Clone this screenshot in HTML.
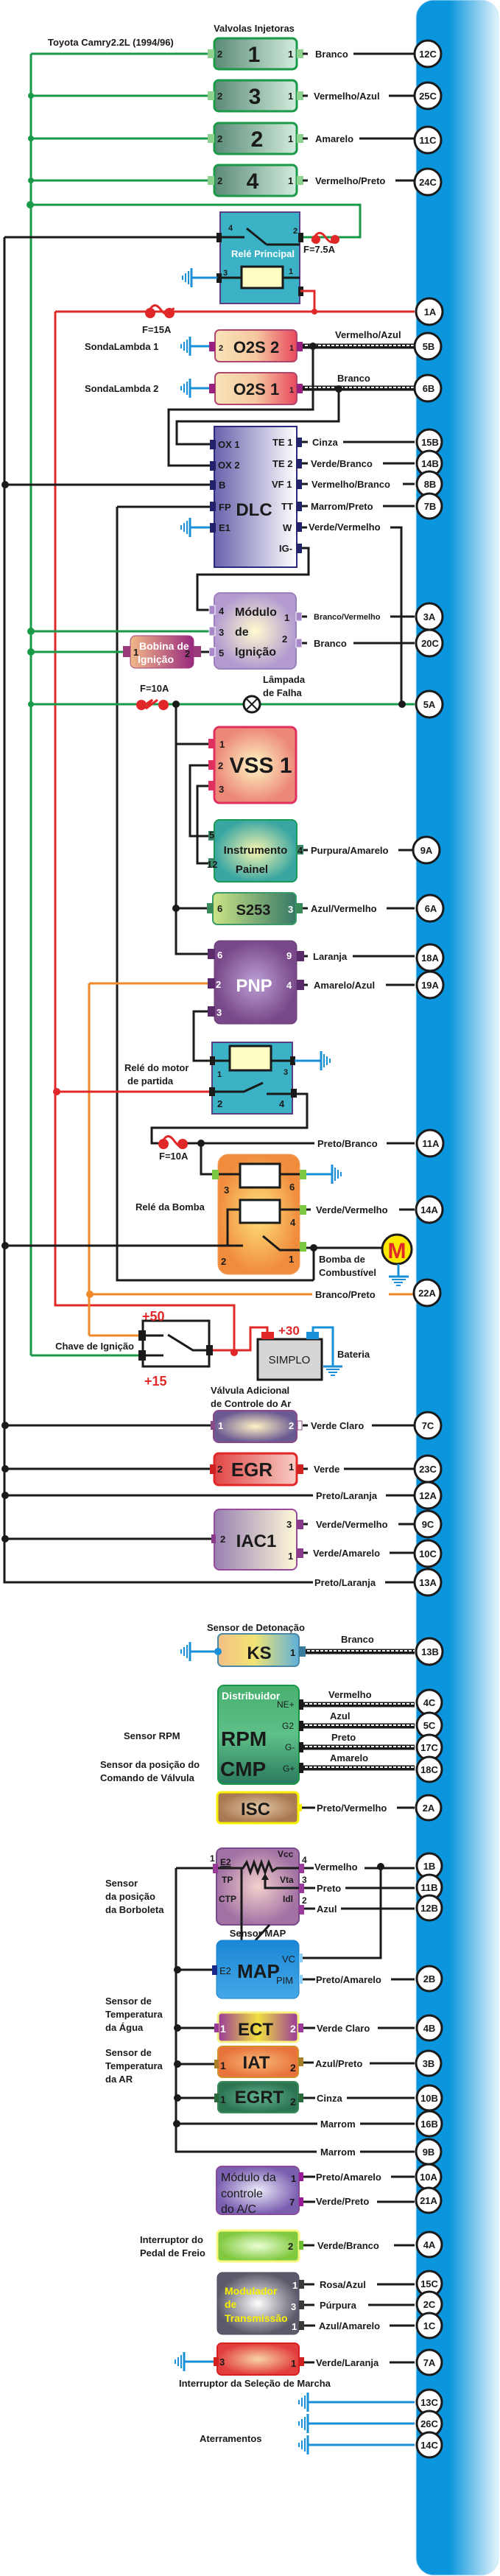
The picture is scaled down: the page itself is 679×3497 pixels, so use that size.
<!DOCTYPE html>
<html><head><meta charset="utf-8"><style>
html,body{margin:0;padding:0;background:#fff}
svg{display:block;fill:#1a1a1a}
text{font-family:"Liberation Sans",sans-serif}
.l{font-size:13px;font-weight:bold}
.s{font-size:11px;font-weight:bold}
.p{font-size:11px;font-weight:bold}
.c{font-size:13px;font-weight:bold;text-anchor:middle}
.wt{fill:#fff}
.yt{fill:#f8f000}
.w{stroke:#1a1a1a;stroke-width:3;fill:none}
.g{stroke:#1a9a48;stroke-width:3;fill:none}
.r{stroke:#e02828;stroke-width:3;fill:none}
.o{stroke:#f08a28;stroke-width:3;fill:none}
.b{stroke:#1a90d8;stroke-width:3;fill:none}
.gb{stroke:#1a90d8;fill:none}
</style></head><body>
<svg width="679" height="3497" viewBox="0 0 679 3497" xmlns="http://www.w3.org/2000/svg">
<defs>
<linearGradient id="bar" x1="0" x2="1"><stop offset="0" stop-color="#0a95dc"/><stop offset="0.4" stop-color="#0a95dc"/><stop offset="1" stop-color="#e4f4fd"/></linearGradient>
<linearGradient id="inj" x1="0" x2="1"><stop offset="0" stop-color="#5a8a76"/><stop offset="1" stop-color="#d2ecdd"/></linearGradient>
<linearGradient id="o2" x1="0" x2="1"><stop offset="0" stop-color="#f8e4b8"/><stop offset="0.5" stop-color="#f6c8a0"/><stop offset="1" stop-color="#e8485e"/></linearGradient>
<linearGradient id="dlc" x1="0" x2="1"><stop offset="0" stop-color="#6862ac"/><stop offset="1" stop-color="#ffffff"/></linearGradient>
<radialGradient id="mod"><stop offset="0" stop-color="#fffbd0"/><stop offset="1" stop-color="#b39bd0"/></radialGradient>
<linearGradient id="bob" x1="0" x2="1"><stop offset="0" stop-color="#f2b888"/><stop offset="1" stop-color="#98287e"/></linearGradient>
<radialGradient id="vss"><stop offset="0" stop-color="#fff6c4"/><stop offset="1" stop-color="#ec8878"/></radialGradient>
<radialGradient id="ins"><stop offset="0" stop-color="#faf6b0"/><stop offset="1" stop-color="#3aa6a2"/></radialGradient>
<linearGradient id="s253" x1="0" x2="1"><stop offset="0" stop-color="#cce486"/><stop offset="1" stop-color="#367866"/></linearGradient>
<radialGradient id="pnp"><stop offset="0" stop-color="#bca0d4"/><stop offset="1" stop-color="#784888"/></radialGradient>
<radialGradient id="bom"><stop offset="0" stop-color="#ffe27e"/><stop offset="1" stop-color="#f08c3c"/></radialGradient>
<radialGradient id="val"><stop offset="0" stop-color="#fff2c4"/><stop offset="1" stop-color="#6a5a92"/></radialGradient>
<linearGradient id="egr" x1="0" x2="1"><stop offset="0" stop-color="#e04646"/><stop offset="1" stop-color="#f8ccc4"/></linearGradient>
<linearGradient id="iac" x1="0" x2="1"><stop offset="0" stop-color="#9880b2"/><stop offset="1" stop-color="#fffad8"/></linearGradient>
<linearGradient id="ks" x1="0" x2="1"><stop offset="0" stop-color="#f4c084"/><stop offset="0.45" stop-color="#f2e474"/><stop offset="1" stop-color="#5eb0da"/></linearGradient>
<linearGradient id="dis" x1="0" y1="0" x2="0" y2="1"><stop offset="0" stop-color="#48b070"/><stop offset="0.5" stop-color="#5ec088"/><stop offset="1" stop-color="#2a7a5e"/></linearGradient>
<radialGradient id="isc"><stop offset="0" stop-color="#e2c6a6"/><stop offset="1" stop-color="#a87850"/></radialGradient>
<radialGradient id="tps"><stop offset="0" stop-color="#f4d0cc"/><stop offset="1" stop-color="#a272a4"/></radialGradient>
<linearGradient id="map" x1="0" x2="0" y1="0" y2="1"><stop offset="0" stop-color="#1a86d6"/><stop offset="1" stop-color="#44a8e6"/></linearGradient>
<linearGradient id="ect" x1="0" x2="1"><stop offset="0" stop-color="#9a3a9a"/><stop offset="0.5" stop-color="#f0e040"/><stop offset="1" stop-color="#9a3a9a"/></linearGradient>
<radialGradient id="iat"><stop offset="0" stop-color="#f8b878"/><stop offset="1" stop-color="#e8743c"/></radialGradient>
<radialGradient id="egrt"><stop offset="0" stop-color="#64b494"/><stop offset="1" stop-color="#2c7452"/></radialGradient>
<radialGradient id="ac"><stop offset="0" stop-color="#ececfa"/><stop offset="1" stop-color="#7a5eb0"/></radialGradient>
<radialGradient id="ped"><stop offset="0" stop-color="#eaffd4"/><stop offset="1" stop-color="#80c83e"/></radialGradient>
<radialGradient id="tr"><stop offset="0" stop-color="#ffffff"/><stop offset="1" stop-color="#5a5a6a"/></radialGradient>
<radialGradient id="sel"><stop offset="0" stop-color="#f8d4a4"/><stop offset="1" stop-color="#e23e3e"/></radialGradient>
</defs>

<!-- blue ECU bar -->
<rect x="565" y="0" width="112" height="3496" rx="24" fill="url(#bar)"/>
<rect x="565" y="0" width="112" height="3496" rx="24" fill="none" stroke="#c8e6f8" stroke-width="1"/>

<!-- main vertical buses -->
<path class="w" d="M6 322V2148H425"/>
<path class="g" d="M42 73V1840"/>
<path class="r" d="M75 423V1772H318V1836"/>
<path class="w" d="M159 688V1738H426"/>
<path class="o" d="M121 1335V1813"/>

<!-- header -->
<text class="l" x="345" y="43" text-anchor="middle">Valvolas Injetoras</text>
<text class="l" x="65" y="62">Toyota Camry2.2L (1994/96)</text>

<!-- injectors -->
<g>
<path class="g" d="M42 73H283M42 130H283M42 188H283M42 245H283M42 278H489V322H407"/>
<rect x="291" y="52" width="112" height="42" rx="6" fill="url(#inj)" stroke="#1a9a48" stroke-width="3"/>
<rect x="291" y="109" width="112" height="42" rx="6" fill="url(#inj)" stroke="#1a9a48" stroke-width="3"/>
<rect x="291" y="167" width="112" height="42" rx="6" fill="url(#inj)" stroke="#1a9a48" stroke-width="3"/>
<rect x="291" y="224" width="112" height="42" rx="6" fill="url(#inj)" stroke="#1a9a48" stroke-width="3"/>
<g fill="#8fd18f"><rect x="282" y="67" width="9" height="12"/><rect x="403" y="67" width="9" height="12"/><rect x="282" y="124" width="9" height="12"/><rect x="403" y="124" width="9" height="12"/><rect x="282" y="182" width="9" height="12"/><rect x="403" y="182" width="9" height="12"/><rect x="282" y="239" width="9" height="12"/><rect x="403" y="239" width="9" height="12"/></g>
<g style="font-size:30px;font-weight:bold" text-anchor="middle"><text x="345" y="84">1</text><text x="346" y="141">3</text><text x="349" y="199">2</text><text x="343" y="256">4</text></g>
<g class="p" style="font-size:13px"><text x="295" y="78">2</text><text x="391" y="78">1</text><text x="295" y="135">2</text><text x="391" y="135">1</text><text x="295" y="193">2</text><text x="391" y="193">1</text><text x="295" y="250">2</text><text x="391" y="250">1</text></g>
<g fill="#1a9a48"><circle cx="42" cy="130" r="4"/><circle cx="42" cy="188" r="4"/><circle cx="42" cy="245" r="4"/><circle cx="41" cy="278" r="5"/></g>
</g>
<path class="w" d="M411 73H418M480 73H563M411 130H418M528 130H563M411 188H418M488 188H563M411 245H418M537 245H563"/>
<g class="l"><text x="428" y="78">Branco</text><text x="426" y="135">Vermelho/Azul</text><text x="428" y="193">Amarelo</text><text x="428" y="250">Vermelho/Preto</text></g>

<!-- relay principal -->
<path class="w" d="M6 322H300"/>
<rect x="299" y="288" width="108" height="124" fill="#3bb2c6" stroke="#5a3f87" stroke-width="2"/>
<path class="w" d="M298 322H332M362 332H407M335 310L362 332"/>
<rect x="294" y="316" width="7" height="13" fill="#1a1a1a"/><rect x="405" y="316" width="7" height="13" fill="#1a1a1a"/>
<text class="p" x="310" y="313">4</text><text class="p" x="398" y="317">2</text>
<text class="wt" x="357" y="349" text-anchor="middle" style="font-size:13px;font-weight:bold">Relé Principal</text>
<path class="w" d="M298 377H407"/>
<rect x="328" y="362" width="56" height="29" fill="#ffffc4" stroke="#1a1a1a" stroke-width="3"/>
<rect x="294" y="371" width="7" height="13" fill="#1a1a1a"/>
<text class="p" x="303" y="374">3</text><text class="p" x="392" y="372">1</text>
<rect x="405" y="389" width="7" height="13" fill="#1a1a1a"/>
<path class="b" d="M260 377H295"/>
<g class="gb"><path d="M260 364V390" stroke-width="3"/><path d="M256 368V386M252 371V383M248 374V380" stroke-width="2"/></g>
<g fill="#e02828"><circle cx="429" cy="325" r="6"/><circle cx="455" cy="325" r="6"/></g><path d="M424 328Q432 308 442 322T460 322" stroke="#e02828" stroke-width="3" fill="none"/>
<text class="l" x="412" y="343">F=7.5A</text>
<path class="r" d="M408 395H427V423M75 423H563"/>
<circle cx="427" cy="423" r="4" fill="#e02828"/>
<g fill="#e02828"><circle cx="204" cy="425" r="7"/><circle cx="230" cy="425" r="7"/></g><path d="M200 428Q208 406 218 420T236 418" stroke="#e02828" stroke-width="3" fill="none"/>
<text class="l" x="193" y="452">F=15A</text>

<!-- O2 sensors -->
<text class="l" x="115" y="475">SondaLambda 1</text>
<text class="l" x="115" y="532">SondaLambda 2</text>
<path class="b" d="M258 470H285M258 527H285"/>
<g class="gb"><path d="M258 457V483M258 514V540" stroke-width="3"/><path d="M254 461V479M250 464V476M246 467V473M254 518V536M250 521V533M246 524V530" stroke-width="2"/></g>
<rect x="292" y="448" width="111" height="43" rx="6" fill="url(#o2)" stroke="#b0466e" stroke-width="2"/>
<rect x="292" y="506" width="111" height="43" rx="6" fill="url(#o2)" stroke="#b0466e" stroke-width="2"/>
<g fill="#9a2080"><rect x="284" y="464" width="8" height="13"/><rect x="403" y="464" width="8" height="13"/><rect x="284" y="521" width="8" height="13"/><rect x="403" y="521" width="8" height="13"/></g>
<text x="348" y="479" text-anchor="middle" style="font-size:22px;font-weight:bold">O2S 2</text>
<text x="348" y="536" text-anchor="middle" style="font-size:22px;font-weight:bold">O2S 1</text>
<text class="p" x="297" y="476">2</text><text class="p" x="393" y="476">1</text><text class="p" x="393" y="533">1</text>
<path stroke="#1a1a1a" stroke-width="7" d="M411 470H563M411 527H563"/>
<path stroke="#fff" stroke-width="2" stroke-dasharray="4 2" d="M414 469H563M414 526H563"/>
<text class="l" x="455" y="459">Vermelho/Azul</text>
<text class="l" x="458" y="518">Branco</text>
<path class="w" d="M425 470V556H229V632H292M460 528V572H240V603H292"/>
<circle cx="425" cy="470" r="5" fill="#1a1a1a"/><circle cx="460" cy="528" r="5" fill="#1a1a1a"/>

<!-- DLC -->
<path class="w" d="M6 658H292M159 688H292"/>
<circle cx="7" cy="658" r="5" fill="#1a1a1a"/>
<rect x="291" y="579" width="112" height="191" fill="url(#dlc)" stroke="#2a2a80" stroke-width="2"/>
<g fill="#22226a"><rect x="285" y="597" width="8" height="13"/><rect x="285" y="626" width="8" height="13"/><rect x="285" y="652" width="8" height="13"/><rect x="285" y="681" width="8" height="13"/><rect x="285" y="710" width="8" height="13"/><rect x="402" y="594" width="8" height="13"/><rect x="402" y="623" width="8" height="13"/><rect x="402" y="651" width="8" height="13"/><rect x="402" y="681" width="8" height="13"/><rect x="402" y="709" width="8" height="13"/><rect x="402" y="738" width="8" height="13"/></g>
<g class="l"><text x="296" y="608">OX 1</text><text x="296" y="636">OX 2</text><text x="297" y="663">B</text><text x="297" y="693">FP</text><text x="297" y="721">E1</text>
<text x="370" y="605">TE 1</text><text x="370" y="634">TE 2</text><text x="369" y="662">VF 1</text><text x="382" y="692">TT</text><text x="384" y="721">W</text><text x="379" y="749">IG-</text></g>
<text x="345" y="700" text-anchor="middle" style="font-size:24px;font-weight:bold">DLC</text>
<path class="b" d="M258 716H285"/>
<g class="gb"><path d="M258 703V729" stroke-width="3"/><path d="M254 707V725M250 710V722M246 713V719" stroke-width="2"/></g>
<path class="w" d="M410 600H418M466 600H563M410 629H418M520 629H563M410 657H418M547 657H563M410 687H418M520 687H563M410 716H417M530 716H545V956M410 744H419V780H268V828H291"/>
<g class="l"><text x="424" y="605">Cinza</text><text x="422" y="634">Verde/Branco</text><text x="423" y="662">Vermelho/Branco</text><text x="422" y="692">Marrom/Preto</text><text x="419" y="720">Verde/Vermelho</text></g>

<!-- Modulo de Ignicao -->
<path class="g" d="M42 857H286M42 885H170"/>
<g fill="#1a9a48"><circle cx="42" cy="857" r="5"/><circle cx="42" cy="885" r="5"/></g>
<rect x="291" y="805" width="111" height="103" rx="8" fill="url(#mod)" stroke="#9a80bc" stroke-width="2"/>
<g fill="#a888c8" stroke="#fff" stroke-width="1"><rect x="284" y="822" width="8" height="12"/><rect x="284" y="851" width="8" height="12"/><rect x="284" y="879" width="8" height="12"/><rect x="402" y="831" width="8" height="12"/><rect x="402" y="867" width="8" height="12"/></g>
<g class="l"><text x="297" y="834">4</text><text x="297" y="863">3</text><text x="297" y="891">5</text><text x="386" y="843">1</text><text x="383" y="872">2</text></g>
<g style="font-size:16px;font-weight:bold"><text x="319" y="836">Módulo</text><text x="319" y="863">de</text><text x="319" y="890">Ignição</text></g>
<rect x="177" y="863" width="86" height="44" rx="7" fill="url(#bob)" stroke="#a04080" stroke-width="1"/>
<rect x="167" y="877" width="10" height="15" fill="#9a3a7a"/><rect x="263" y="877" width="10" height="15" fill="#9a3a7a"/>
<g style="font-size:14px;font-weight:bold"><text class="wt" x="189" y="882">Bobina de</text><text class="wt" x="187" y="900">Ignição</text></g>
<text class="l" x="181" y="890">1</text><text class="l" x="251" y="892">2</text>
<path class="w" d="M273 885H284"/>
<path class="w" d="M410 837H417M530 837H563M410 873H417M480 873H563"/>
<text class="s" x="426" y="841">Branco/Vermelho</text>
<text class="l" x="426" y="878">Branco</text>

<!-- 5A line -->
<text class="l" x="357" y="927">Lâmpada</text><text class="l" x="357" y="945">de Falha</text>
<text class="l" x="190" y="939">F=10A</text>
<path class="g" d="M42 956H563"/>
<circle cx="42" cy="956" r="4" fill="#1a9a48"/>
<g fill="#e02828"><circle cx="192" cy="957" r="7"/><circle cx="222" cy="957" r="7"/></g><path d="M189 962L207 950 198 962 214 950" stroke="#e02828" stroke-width="3" fill="none"/>
<circle cx="342" cy="956" r="11" fill="#fff" stroke="#1a1a1a" stroke-width="3"/><path d="M334 948L350 964M350 948L334 964" stroke="#1a1a1a" stroke-width="2"/>
<circle cx="239" cy="956" r="5" fill="#1a1a1a"/><circle cx="546" cy="956" r="5" fill="#1a1a1a"/>

<!-- VSS / painel / S253 / PNP -->
<path class="w" d="M239 956V1295H291M239 1010H291M291 1039H258V1135H291M291 1067H268V1172H291M239 1233H289"/>
<circle cx="239" cy="1233" r="5" fill="#1a1a1a"/>
<rect x="291" y="987" width="111" height="103" rx="7" fill="url(#vss)" stroke="#e03060" stroke-width="3"/>
<g fill="#e03060"><rect x="283" y="1003" width="9" height="13"/><rect x="283" y="1032" width="9" height="13"/><rect x="283" y="1060" width="9" height="13"/></g>
<g class="l"><text x="298" y="1015">1</text><text x="296" y="1044">2</text><text x="297" y="1076">3</text></g>
<text x="354" y="1049" text-anchor="middle" style="font-size:30px;font-weight:bold">VSS 1</text>
<rect x="291" y="1113" width="112" height="84" rx="7" fill="url(#ins)" stroke="#1a9a58" stroke-width="2"/>
<g fill="#3a8a6a"><rect x="283" y="1128" width="9" height="13"/><rect x="283" y="1165" width="9" height="13"/><rect x="403" y="1147" width="9" height="13"/></g>
<g class="l"><text x="284" y="1138">5</text><text x="281" y="1178">12</text><text x="404" y="1159">4</text></g>
<g style="font-size:15px;font-weight:bold" text-anchor="middle"><text x="347" y="1159">Instrumento</text><text x="342" y="1185">Painel</text></g>
<path class="w" d="M412 1154H418M541 1154H563"/>
<text class="l" x="422" y="1159">Purpura/Amarelo</text>
<rect x="289" y="1212" width="113" height="43" rx="6" fill="url(#s253)" stroke="#3a9a6a" stroke-width="2"/>
<g fill="#3a8a5a"><rect x="281" y="1226" width="9" height="14"/><rect x="402" y="1226" width="9" height="14"/></g>
<text class="l" x="295" y="1238">6</text><text class="l wt" x="391" y="1239">3</text>
<text x="344" y="1242" text-anchor="middle" style="font-size:20px;font-weight:bold">S253</text>
<path class="w" d="M411 1233H418M525 1233H563"/>
<text class="l" x="422" y="1238">Azul/Vermelho</text>
<path class="o" d="M121 1335H284"/>
<rect x="291" y="1277" width="112" height="113" rx="8" fill="url(#pnp)" stroke="#6a3a7a" stroke-width="1"/>
<g fill="#5a2a6a"><rect x="282" y="1288" width="10" height="14"/><rect x="282" y="1328" width="10" height="14"/><rect x="282" y="1366" width="10" height="14"/><rect x="403" y="1291" width="10" height="14"/><rect x="403" y="1330" width="10" height="14"/></g>
<g class="l"><text class="wt" x="295" y="1301">6</text><text class="wt" x="293" y="1341">2</text><text class="wt" x="294" y="1379">3</text><text class="wt" x="389" y="1302">9</text><text class="wt" x="389" y="1342">4</text></g>
<text class="wt" x="345" y="1346" text-anchor="middle" style="font-size:24px;font-weight:bold">PNP</text>
<path class="w" d="M413 1298H418M479 1298H563M413 1337H418M524 1337H563"/>
<text class="l" x="425" y="1303">Laranja</text><text class="l" x="426" y="1342">Amarelo/Azul</text>

<!-- starter relay -->
<path class="w" d="M282 1373H263V1440H288"/>
<rect x="288" y="1415" width="109" height="97" fill="#3bb2c6" stroke="#5a3f87" stroke-width="2"/>
<path class="w" d="M288 1440H397"/>
<rect x="312" y="1420" width="56" height="33" fill="#ffffc4" stroke="#1a1a1a" stroke-width="3"/>
<rect x="285" y="1434" width="7" height="12" fill="#1a1a1a"/><rect x="394" y="1434" width="7" height="12" fill="#1a1a1a"/>
<text class="p" x="295" y="1462">1</text><text class="p" x="385" y="1459">3</text>
<path class="b" d="M400 1440H436"/>
<g class="gb"><path d="M436 1427V1453" stroke-width="3"/><path d="M440 1431V1449M444 1434V1446M448 1437V1443" stroke-width="2"/></g>
<path class="r" d="M75 1482H289"/><circle cx="77" cy="1482" r="5" fill="#e02828"/>
<path class="w" d="M289 1482H331L357 1470M362 1485H397"/>
<rect x="284" y="1476" width="8" height="12" fill="#1a1a1a"/><rect x="395" y="1478" width="8" height="12" fill="#1a1a1a"/>
<text class="l" x="295" y="1503">2</text><text class="l" x="379" y="1503">4</text>
<text class="l" x="169" y="1454">Relé do motor</text><text class="l" x="173" y="1472">de partida</text>
<path class="w" d="M400 1485H417V1531H206V1552H222M250 1552H427M525 1552H563M273 1552V1594H290"/>
<g fill="#e02828"><circle cx="222" cy="1553" r="7"/><circle cx="248" cy="1553" r="7"/></g><path d="M218 1556Q226 1534 236 1548T253 1556" stroke="#e02828" stroke-width="3" fill="none"/>
<circle cx="273" cy="1552" r="5" fill="#1a1a1a"/>
<text class="l" x="216" y="1574">F=10A</text>
<text class="l" x="431" y="1557">Preto/Branco</text>

<!-- fuel pump relay -->
<rect x="296" y="1567" width="111" height="163" rx="14" fill="url(#bom)" stroke="#f0a060" stroke-width="1"/>
<path class="w" d="M290 1594H410M410 1642H380M326 1642H309V1691M6 1691H330M357 1678L380 1697H409"/>
<rect x="326" y="1580" width="54" height="32" fill="#fff" stroke="#1a1a1a" stroke-width="3"/>
<rect x="326" y="1629" width="54" height="31" fill="#fff" stroke="#1a1a1a" stroke-width="3"/>
<g fill="#7ac840"><rect x="288" y="1588" width="9" height="13"/><rect x="407" y="1588" width="9" height="13"/><rect x="407" y="1636" width="9" height="13"/><rect x="407" y="1686" width="9" height="13"/></g>
<g class="l"><text x="304" y="1620">3</text><text x="393" y="1616">6</text><text x="394" y="1664">4</text><text x="300" y="1717">2</text><text x="392" y="1714">1</text></g>
<path class="b" d="M416 1594H451"/>
<g class="gb"><path d="M451 1581V1607" stroke-width="3"/><path d="M455 1585V1603M459 1588V1600M463 1591V1597" stroke-width="2"/></g>
<text class="l" x="184" y="1643">Relé da Bomba</text>
<circle cx="7" cy="1691" r="5" fill="#1a1a1a"/>
<path class="w" d="M416 1642H422M542 1642H563"/>
<text class="l" x="429" y="1647">Verde/Vermelho</text>
<path class="w" d="M416 1694H520M426 1694V1738"/>
<circle cx="426" cy="1694" r="5" fill="#1a1a1a"/>
<circle cx="539" cy="1696" r="20" fill="#ffe800" stroke="#1a1a1a" stroke-width="3"/>
<text x="539" y="1708" text-anchor="middle" style="font-size:30px;font-weight:bold;fill:#e02828">M</text>
<path class="b" d="M541 1716V1733"/>
<g class="gb"><path d="M528 1733H555" stroke-width="3"/><path d="M532 1737H551M535 1741H547M538 1745H544" stroke-width="2"/></g>
<text class="l" x="433" y="1714">Bomba de</text><text class="l" x="433" y="1732">Combustível</text>
<path class="o" d="M121 1757H424M528 1757H563"/>
<circle cx="122" cy="1757" r="5" fill="#f08a28"/>
<text class="l" x="428" y="1762">Branco/Preto</text>

<!-- ignition switch & battery -->
<path class="o" d="M121 1813H192"/>
<path class="g" d="M42 1840H192"/>
<rect x="194" y="1793" width="90" height="62" fill="#fff" stroke="#1a1a1a" stroke-width="3"/>
<rect x="188" y="1806" width="10" height="14" fill="#1a1a1a"/><rect x="188" y="1833" width="10" height="14" fill="#1a1a1a"/><rect x="280" y="1826" width="9" height="14" fill="#1a1a1a"/>
<path class="w" d="M198 1813H222M198 1840H222M228 1812L262 1833H284"/>
<text x="193" y="1793" style="font-size:18px;font-weight:bold;fill:#e02828">+50</text>
<text x="196" y="1881" style="font-size:18px;font-weight:bold;fill:#e02828">+15</text>
<text class="l" x="182" y="1832" text-anchor="end">Chave de Ignição</text>
<path class="r" d="M289 1833H340V1802H363V1812"/>
<circle cx="318" cy="1836" r="5" fill="#e02828"/>
<rect x="350" y="1818" width="87" height="55" fill="#d6d6d6" stroke="#1a1a1a" stroke-width="3"/>
<rect x="355" y="1808" width="17" height="10" fill="#e02828"/><rect x="416" y="1808" width="17" height="10" fill="#1a90d8"/>
<text x="393" y="1851" text-anchor="middle" style="font-size:15px">SIMPLO</text>
<text x="378" y="1812" style="font-size:17px;font-weight:bold;fill:#e02828">+30</text>
<path class="b" d="M425 1808V1802H452V1855"/>
<g class="gb"><path d="M439 1855H465" stroke-width="3"/><path d="M443 1859H461M446 1863H458M449 1867H455" stroke-width="2"/></g>
<text class="l" x="458" y="1843">Bateria</text>
<text class="l" x="286" y="1892">Válvula Adicional</text><text class="l" x="286" y="1910">de Controle do Ar</text>

<!-- Valve/EGR/IAC -->
<path class="w" d="M6 1935H289M6 1994H289M6 2030H425M6 2089H289"/>
<g fill="#1a1a1a"><circle cx="7" cy="1935" r="5"/><circle cx="7" cy="1994" r="5"/><circle cx="7" cy="2030" r="5"/><circle cx="7" cy="2089" r="5"/></g>
<rect x="290" y="1915" width="113" height="43" rx="7" fill="url(#val)" stroke="#8a4a8a" stroke-width="2"/>
<rect x="286" y="1929" width="6" height="12" fill="#8a4a8a"/><rect x="404" y="1929" width="6" height="12" fill="#fff" stroke="#8a4a8a"/>
<text class="l wt" x="296" y="1940">1</text><text class="l wt" x="392" y="1940">2</text>
<path class="w" d="M411 1935H418M505 1935H563"/><text class="l" x="422" y="1940">Verde Claro</text>
<rect x="291" y="1973" width="112" height="43" rx="6" fill="url(#egr)" stroke="#e02828" stroke-width="3"/>
<rect x="285" y="1988" width="8" height="13" fill="#d02020"/><rect x="403" y="1988" width="9" height="13" fill="#d02020"/>
<text class="l" x="295" y="1999">2</text><text class="l" x="392" y="1996">1</text>
<text x="342" y="2004" text-anchor="middle" style="font-size:26px;font-weight:bold">EGR</text>
<path class="w" d="M412 1994H418M467 1994H563"/><text class="l" x="426" y="1999">Verde</text>
<path class="w" d="M524 2030H563"/><text class="l" x="429" y="2035">Preto/Laranja</text>
<rect x="291" y="2049" width="112" height="82" rx="7" fill="url(#iac)" stroke="#9a4a9a" stroke-width="2"/>
<g fill="#8a3a8a"><rect x="287" y="2083" width="6" height="12"/><rect x="403" y="2063" width="9" height="13"/><rect x="403" y="2102" width="9" height="13"/></g>
<g class="l"><text x="299" y="2094">2</text><text x="389" y="2074">3</text><text x="391" y="2117">1</text></g>
<text x="348" y="2100" text-anchor="middle" style="font-size:24px;font-weight:bold">IAC1</text>
<path class="w" d="M412 2069H418M541 2069H563M412 2108H418M529 2108H563M523 2148H563"/>
<text class="l" x="429" y="2074">Verde/Vermelho</text><text class="l" x="425" y="2113">Verde/Amarelo</text>
<text class="l" x="427" y="2153">Preto/Laranja</text>

<!-- KS -->
<text class="l" x="281" y="2214">Sensor de Detonação</text>
<path class="b" d="M258 2242H296"/>
<g class="gb"><path d="M258 2229V2255" stroke-width="3"/><path d="M254 2233V2251M250 2236V2248M246 2239V2245" stroke-width="2"/></g>
<rect x="296" y="2218" width="110" height="44" rx="6" fill="url(#ks)" stroke="#4a8aa8" stroke-width="2"/>
<circle cx="296" cy="2242" r="5" fill="#1a90d8"/>
<rect x="406" y="2235" width="9" height="14" fill="#3a7a9a"/>
<text x="352" y="2252" text-anchor="middle" style="font-size:24px;font-weight:bold">KS</text>
<text class="l" x="394" y="2248">1</text>
<path stroke="#1a1a1a" stroke-width="7" d="M415 2242H563"/><path stroke="#fff" stroke-width="2" stroke-dasharray="4 2" d="M417 2241H563"/>
<text class="l" x="463" y="2230">Branco</text>

<!-- Distribuidor -->
<rect x="296" y="2288" width="110" height="134" rx="8" fill="url(#dis)" stroke="#1a9a48" stroke-width="2"/>
<text class="wt" x="301" y="2307" style="font-size:14px;font-weight:bold">Distribuidor</text>
<g style="font-size:12px"><text x="376" y="2318">NE+</text><text x="383" y="2347">G2</text><text x="387" y="2376">G-</text><text x="384" y="2405">G+</text></g>
<text x="300" y="2370" style="font-size:28px;font-weight:bold">RPM</text>
<text x="299" y="2411" style="font-size:28px;font-weight:bold">CMP</text>
<g fill="#1a1a1a"><rect x="406" y="2307" width="6" height="14"/><rect x="406" y="2336" width="6" height="14"/><rect x="406" y="2365" width="6" height="14"/><rect x="406" y="2393" width="6" height="14"/></g>
<path stroke="#1a1a1a" stroke-width="7" d="M412 2314H563M412 2343H563M412 2372H563M412 2400H563"/>
<path stroke="#fff" stroke-width="2" stroke-dasharray="4 2" d="M414 2313H563M414 2342H563M414 2371H563M414 2399H563"/>
<g class="l"><text x="446" y="2305">Vermelho</text><text x="448" y="2334">Azul</text><text x="450" y="2363">Preto</text><text x="448" y="2391">Amarelo</text></g>
<text class="l" x="168" y="2361">Sensor RPM</text>
<text class="l" x="136" y="2400">Sensor da posição do</text><text class="l" x="136" y="2418">Comando de Válvula</text>

<!-- ISC -->
<rect x="295" y="2433" width="110" height="42" rx="5" fill="url(#isc)" stroke="#f8f000" stroke-width="3"/>
<rect x="405" y="2449" width="5" height="10" fill="#f8f000"/>
<text x="347" y="2464" text-anchor="middle" style="font-size:24px;font-weight:bold">ISC</text>
<path class="w" d="M410 2454H428M539 2454H563"/><text class="l" x="430" y="2459">Preto/Vermelho</text>

<!-- TPS -->
<path class="w" d="M239 2536V2921H430M239 2536H292"/>
<rect x="294" y="2509" width="112" height="104" rx="8" fill="url(#tps)" stroke="#7a4a8a" stroke-width="2"/>
<g fill="#9a3a9a"><rect x="289" y="2530" width="7" height="13"/><rect x="406" y="2530" width="7" height="13"/><rect x="406" y="2557" width="7" height="13"/><rect x="406" y="2586" width="7" height="13"/></g>
<g style="font-size:12px;font-weight:bold"><text x="285" y="2527">1</text><text x="299" y="2532" text-decoration="underline">E2</text><text x="301" y="2556">TP</text><text x="297" y="2582">CTP</text><text x="377" y="2521">Vcc</text><text x="380" y="2556">Vta</text><text x="384" y="2582">Idl</text><text x="410" y="2529">4</text><text x="410" y="2556">3</text><text x="410" y="2584">2</text></g>
<path class="w" d="M296 2536H330L335 2528 340 2542 345 2528 350 2542 355 2528 360 2542 365 2528 370 2540 376 2536H406M328 2536V2645H337L366 2613M365 2644H406M406 2563H360V2550"/>
<path d="M355 2552L360 2543 365 2552Z" fill="#1a1a1a"/>
<path class="w" d="M413 2536H426M495 2536H563M413 2563H428M469 2563H563M413 2591H428M463 2591H563M517 2536V2658H406"/>
<circle cx="517" cy="2534" r="5" fill="#1a1a1a"/>
<g class="l"><text x="427" y="2539">Vermelho</text><text x="430" y="2568">Preto</text><text x="430" y="2596">Azul</text></g>
<g class="l"><text x="143" y="2561">Sensor</text><text x="143" y="2579">da posição</text><text x="143" y="2597">da Borboleta</text></g>
<text class="l" x="350" y="2629" text-anchor="middle">Sensor MAP</text>

<!-- MAP -->
<rect x="294" y="2634" width="112" height="79" rx="8" fill="url(#map)" stroke="#1a80c8" stroke-width="1"/>
<rect x="288" y="2668" width="7" height="13" fill="#1a2a8a"/>
<rect x="406" y="2652" width="5" height="12" fill="#8ad0f8"/><rect x="406" y="2681" width="5" height="12" fill="#8ad0f8"/>
<g style="font-size:13px"><text x="298" y="2680">E2</text><text x="383" y="2664">VC</text><text x="375" y="2693">PIM</text></g>
<text x="351" y="2685" text-anchor="middle" style="font-size:26px;font-weight:bold">MAP</text>
<path class="w" d="M239 2674H288M411 2687H428M531 2687H563"/>
<text class="l" x="429" y="2692">Preto/Amarelo</text>

<!-- ECT IAT EGRT -->
<path class="w" d="M239 2753H292M239 2802H292M239 2848H292M239 2883H431M489 2883H563M489 2921H563"/>
<g fill="#1a1a1a"><circle cx="241" cy="2674" r="5"/><circle cx="241" cy="2753" r="5"/><circle cx="241" cy="2802" r="5"/><circle cx="241" cy="2848" r="5"/><circle cx="240" cy="2883" r="5"/></g>
<rect x="296" y="2732" width="109" height="40" rx="5" fill="url(#ect)" stroke="#f8f080" stroke-width="3"/>
<rect x="291" y="2747" width="6" height="12" fill="#9a3a9a"/><rect x="405" y="2747" width="7" height="12" fill="#9a3a9a"/>
<text class="wt" x="299" y="2759" style="font-size:14px;font-weight:bold">1</text><text class="wt" x="394" y="2759" style="font-size:14px;font-weight:bold">2</text>
<text x="347" y="2763" text-anchor="middle" style="font-size:24px;font-weight:bold">ECT</text>
<rect x="296" y="2778" width="109" height="42" rx="6" fill="url(#iat)" stroke="#d8902a" stroke-width="2"/>
<rect x="291" y="2796" width="6" height="12" fill="#a8802a"/><rect x="405" y="2793" width="7" height="12" fill="#a8802a"/>
<text class="l" x="299" y="2809" style="font-size:14px">1</text><text class="l" x="394" y="2812" style="font-size:14px">2</text>
<text x="348" y="2808" text-anchor="middle" style="font-size:24px;font-weight:bold">IAT</text>
<rect x="296" y="2826" width="109" height="42" rx="6" fill="url(#egrt)" stroke="#3a8a5a" stroke-width="2"/>
<rect x="291" y="2842" width="6" height="12" fill="#2a6a3a"/><rect x="405" y="2842" width="7" height="12" fill="#2a6a3a"/>
<text class="l" x="299" y="2855" style="font-size:14px">1</text><text class="l" x="394" y="2858" style="font-size:14px">2</text>
<text x="352" y="2855" text-anchor="middle" style="font-size:24px;font-weight:bold">EGRT</text>
<path class="w" d="M412 2753H428M513 2753H563M412 2800H426M502 2801H563M412 2848H428M471 2848H563"/>
<g class="l"><text x="430" y="2758">Verde Claro</text><text x="428" y="2806">Azul/Preto</text><text x="430" y="2853">Cinza</text><text x="435" y="2888">Marrom</text><text x="435" y="2926">Marrom</text></g>
<g class="l"><text x="143" y="2721">Sensor de</text><text x="143" y="2739">Temperatura</text><text x="143" y="2757">da Água</text><text x="143" y="2791">Sensor de</text><text x="143" y="2809">Temperatura</text><text x="143" y="2827">da AR</text></g>

<!-- A/C -->
<rect x="294" y="2941" width="112" height="65" rx="7" fill="url(#ac)" stroke="#8a4a9a" stroke-width="2"/>
<rect x="406" y="2949" width="6" height="12" fill="#9a1a9a"/><rect x="406" y="2983" width="6" height="12" fill="#9a1a9a"/>
<g style="font-size:16px"><text x="300" y="2961">Módulo da</text><text x="300" y="2983">controle</text><text x="300" y="3004">do A/C</text></g>
<text class="l" x="395" y="2962">1</text><text class="l" x="393" y="2994">7</text>
<path class="w" d="M412 2955H428M531 2955H563M412 2989H428M512 2989H563"/>
<text class="l" x="429" y="2960">Preto/Amarelo</text><text class="l" x="429" y="2993">Verde/Preto</text>

<!-- Pedal -->
<rect x="295" y="3028" width="111" height="42" rx="5" fill="url(#ped)" stroke="#f8f880" stroke-width="3"/>
<rect x="406" y="3042" width="6" height="12" fill="#6ac030"/>
<text class="l" x="391" y="3054">2</text>
<path class="w" d="M412 3048H427M535 3048H563"/>
<text class="l" x="431" y="3053">Verde/Branco</text>
<text class="l" x="190" y="3045">Interruptor do</text><text class="l" x="190" y="3063">Pedal de Freio</text>

<!-- Modulador -->
<rect x="295" y="3085" width="111" height="84" rx="7" fill="url(#tr)" stroke="#4a4a5a" stroke-width="1"/>
<g fill="#3a3a3a"><rect x="406" y="3095" width="7" height="12"/><rect x="406" y="3123" width="7" height="12"/><rect x="406" y="3151" width="7" height="12"/></g>
<g style="font-size:14px;font-weight:bold"><text class="yt" x="305" y="3115">Modulador</text><text class="yt" x="305" y="3133">de</text><text class="yt" x="305" y="3152">Transmissão</text></g>
<g class="l"><text class="wt" x="397" y="3107">1</text><text class="wt" x="395" y="3136">3</text><text class="wt" x="396" y="3163">1</text></g>
<path class="w" d="M413 3101H427M512 3101H563M413 3129H427M500 3129H563M413 3157H428M529 3157H563"/>
<g class="l"><text x="434" y="3106">Rosa/Azul</text><text x="434" y="3134">Púrpura</text><text x="433" y="3162">Azul/Amarelo</text></g>

<!-- Selecao -->
<path class="b" d="M250 3206H292"/>
<g class="gb"><path d="M250 3193V3219" stroke-width="3"/><path d="M246 3197V3215M242 3200V3212M238 3203V3209" stroke-width="2"/></g>
<rect x="295" y="3181" width="111" height="43" rx="6" fill="url(#sel)" stroke="#d82020" stroke-width="2"/>
<rect x="290" y="3200" width="7" height="12" fill="#d02020"/><rect x="406" y="3200" width="7" height="12" fill="#d02020"/>
<text class="l" x="298" y="3211">3</text><text class="l" x="395" y="3213">1</text>
<path class="w" d="M413 3207H427M529 3207H563"/>
<text class="l" x="429" y="3212">Verde/Laranja</text>
<text class="l" x="243" y="3240">Interruptor da Seleção de Marcha</text>

<!-- grounds -->
<path class="b" d="M418 3261H563M418 3290H563M418 3319H563"/>
<g class="gb"><path d="M418 3248V3274M418 3277V3303M418 3306V3332" stroke-width="3"/><path d="M414 3252V3270M410 3255V3267M406 3258V3264M414 3281V3299M410 3284V3296M406 3287V3293M414 3310V3328M410 3313V3325M406 3316V3322" stroke-width="2"/></g>
<text class="l" x="271" y="3315">Aterramentos</text>

<!-- connector circles -->
<g fill="#fff" stroke="#1a1a1a" stroke-width="3">
<circle cx="581" cy="73" r="18"/><circle cx="581" cy="130" r="18"/><circle cx="581" cy="190" r="18"/><circle cx="581" cy="247" r="18"/>
<circle cx="583" cy="423" r="18"/><circle cx="581" cy="470" r="18"/><circle cx="581" cy="527" r="18"/>
<circle cx="583" cy="600" r="17"/><circle cx="583" cy="629" r="17"/><circle cx="583" cy="657" r="17"/><circle cx="583" cy="687" r="17"/>
<circle cx="583" cy="837" r="18"/><circle cx="583" cy="873" r="18"/><circle cx="583" cy="956" r="18"/>
<circle cx="579" cy="1154" r="18"/><circle cx="584" cy="1233" r="18"/><circle cx="584" cy="1300" r="18"/><circle cx="584" cy="1337" r="18"/>
<circle cx="584" cy="1552" r="18"/><circle cx="583" cy="1642" r="18"/><circle cx="580" cy="1755" r="18"/>
<circle cx="581" cy="1935" r="18"/><circle cx="581" cy="1994" r="18"/><circle cx="581" cy="2030" r="18"/><circle cx="581" cy="2069" r="18"/><circle cx="581" cy="2109" r="18"/><circle cx="581" cy="2148" r="18"/>
<circle cx="583" cy="2242" r="18"/>
<circle cx="583" cy="2311" r="17"/><circle cx="583" cy="2342" r="17"/><circle cx="583" cy="2372" r="17"/><circle cx="583" cy="2402" r="17"/>
<circle cx="582" cy="2454" r="17"/>
<circle cx="583" cy="2533" r="17"/><circle cx="583" cy="2562" r="17"/><circle cx="583" cy="2590" r="17"/>
<circle cx="583" cy="2686" r="17"/><circle cx="583" cy="2753" r="17"/><circle cx="582" cy="2801" r="17"/><circle cx="583" cy="2848" r="17"/><circle cx="583" cy="2883" r="17"/><circle cx="582" cy="2921" r="17"/>
<circle cx="582" cy="2955" r="17"/><circle cx="582" cy="2987" r="17"/><circle cx="583" cy="3047" r="17"/>
<circle cx="583" cy="3100" r="17"/><circle cx="583" cy="3128" r="17"/><circle cx="583" cy="3157" r="17"/><circle cx="583" cy="3207" r="17"/>
<circle cx="583" cy="3261" r="17"/><circle cx="583" cy="3290" r="17"/><circle cx="583" cy="3319" r="17"/>
</g>
<g class="c">
<text x="581" y="78">12C</text><text x="581" y="135">25C</text><text x="581" y="195">11C</text><text x="581" y="252">24C</text>
<text x="584" y="428">1A</text><text x="582" y="475">5B</text><text x="582" y="532">6B</text>
<text x="584" y="605">15B</text><text x="584" y="634">14B</text><text x="584" y="662">8B</text><text x="584" y="692">7B</text>
<text x="583" y="842">3A</text><text x="584" y="878">20C</text><text x="583" y="961">5A</text>
<text x="579" y="1159">9A</text><text x="585" y="1238">6A</text><text x="584" y="1305">18A</text><text x="584" y="1342">19A</text>
<text x="585" y="1557">11A</text><text x="583" y="1647">14A</text><text x="580" y="1760">22A</text>
<text x="581" y="1940">7C</text><text x="581" y="1999">23C</text><text x="581" y="2035">12A</text><text x="581" y="2074">9C</text><text x="581" y="2114">10C</text><text x="581" y="2153">13A</text>
<text x="584" y="2247">13B</text>
<text x="583" y="2316">4C</text><text x="583" y="2347">5C</text><text x="583" y="2377">17C</text><text x="583" y="2407">18C</text>
<text x="582" y="2459">2A</text>
<text x="583" y="2538">1B</text><text x="583" y="2567">11B</text><text x="583" y="2595">12B</text>
<text x="583" y="2691">2B</text><text x="583" y="2758">4B</text><text x="582" y="2806">3B</text><text x="583" y="2853">10B</text><text x="583" y="2888">16B</text><text x="582" y="2926">9B</text>
<text x="582" y="2960">10A</text><text x="582" y="2992">21A</text><text x="583" y="3052">4A</text>
<text x="583" y="3105">15C</text><text x="583" y="3133">2C</text><text x="583" y="3162">1C</text><text x="583" y="3212">7A</text>
<text x="583" y="3266">13C</text><text x="583" y="3295">26C</text><text x="583" y="3324">14C</text>
</g>
</svg>
</body></html>
